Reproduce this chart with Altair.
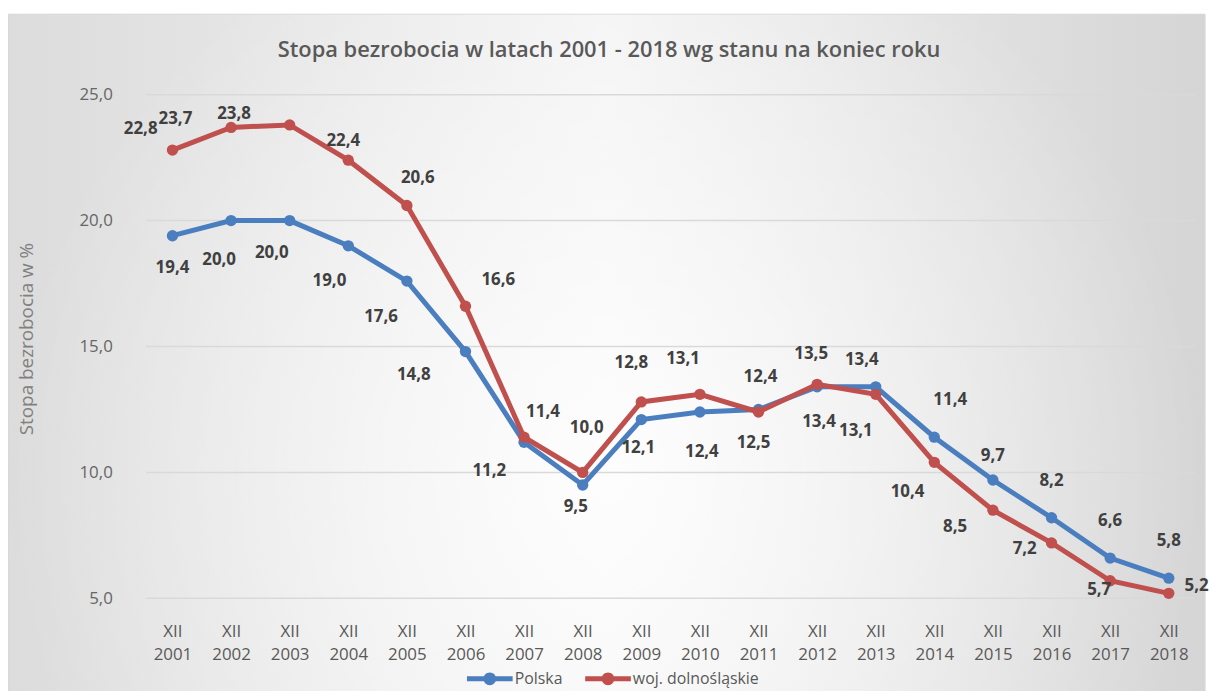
import altair as alt
import pandas as pd

# ---- data ----
years = ["2001", "2002", "2003", "2004", "2005", "2006", "2007", "2008", "2009",
         "2010", "2011", "2012", "2013", "2014", "2015", "2016", "2017", "2018"]
polska = [19.4, 20.0, 20.0, 19.0, 17.6, 14.8, 11.2, 9.5, 12.1,
          12.4, 12.5, 13.4, 13.4, 11.4, 9.7, 8.2, 6.6, 5.8]
dolnoslaskie = [22.8, 23.7, 23.8, 22.4, 20.6, 16.6, 11.4, 10.0, 12.8,
                13.1, 12.4, 13.5, 13.1, 10.4, 8.5, 7.2, 5.7, 5.2]
series_names = ["Polska", "woj. dolnośląskie"]
y_ticks = [5, 10, 15, 20, 25]

# ---- label nudges in pixels (placement of the data labels, as in the reference) ----
polska_nudge = [(0, 33), (-12, 40), (-18, 33), (-19, 35), (-26, 36), (-52, 24),
                (-35, 29), (-7, 22), (-3, 29), (2, 40), (-5, 34), (2, 35),
                (-14, -27), (16, -37), (0, -24), (0, -37), (0, -37), (0, -37)]
dolno_nudge = [(-32, -21), (-56, -8), (-56, -11), (-5, -19), (11, -28), (33, -26),
               (19, -25), (4, -45), (-10, -39), (-17, -36), (2, -35), (-6, -30),
               (-20, 37), (-27, 30), (-38, 17), (-27, 6), (-11, 9), (28, -7)]

rows = []
for i, yr in enumerate(years):
    rows.append({"year": yr, "series": series_names[0], "value": polska[i]})
for i, yr in enumerate(years):
    rows.append({"year": yr, "series": series_names[1], "value": dolnoslaskie[i]})
df = pd.DataFrame(rows)
df["idx"] = range(len(df))
nudges = polska_nudge + dolno_nudge

W, H = 1056, 507
FONT = "Open Sans"
GRAY = "#595959"

color_scale = alt.Scale(domain=series_names, range=["#4A7EBF", "#C0504D"])
y_scale = alt.Scale(domain=[5, 25], nice=False, zero=False)

x_enc = alt.X(
    "year:O",
    sort=years,
    scale=alt.Scale(type="point", padding=0.45),
    axis=alt.Axis(
        title=None, domain=False, ticks=False, grid=False, zindex=2,
        labelExpr="['XII', datum.value]", labelFont=FONT, labelFontSize=17,
        labelColor=GRAY, labelLineHeight=24, labelPadding=25, labelAngle=0,
    ),
)
y_enc = alt.Y(
    "value:Q",
    scale=y_scale,
    axis=alt.Axis(
        values=y_ticks, domain=False, ticks=False, grid=False, zindex=2,
        labelExpr="replace(format(datum.value, '.1f'), '.', ',')",
        labelFont=FONT, labelFontSize=17, labelColor="#666666", labelPadding=34,
        title="Stopa bezrobocia w %", titleFont=FONT, titleFontSize=19,
        titleFontWeight="normal", titleColor="#808080",
        titleX=-120, titleY=H / 2 - 8, titleAngle=270, titleBaseline="middle",
    ),
)

legend_path = ("M-1,-0.11H1V0.11H-1Z "
               "M0.28,0A0.28,0.28 0 1 1 -0.28,0A0.28,0.28 0 1 1 0.28,0Z")
legend = alt.Legend(
    orient="none", legendX=323, legendY=565, direction="horizontal", title=None,
    symbolType=legend_path, symbolSize=2116, symbolStrokeWidth=0,
    labelFont=FONT, labelFontSize=16, labelColor=GRAY, labelOffset=2,
    columnPadding=22, padding=0, zindex=2,
)

one = pd.DataFrame({"k": [0]})
bg = alt.Chart(one).mark_rect(
    fill=alt.Gradient(
        gradient="linear", x1=0, y1=0, x2=1, y2=0,
        stops=[alt.GradientStop(offset=0, color="#dcdcdc"),
               alt.GradientStop(offset=0.5, color="#f3f3f3"),
               alt.GradientStop(offset=1, color="#d5d5d5")],
    ),
    stroke="#d6d6d6", strokeWidth=1,
).encode(x=alt.value(-139), x2=alt.value(1066), y=alt.value(-81), y2=alt.value(606))

glow = alt.Chart(one).mark_rect(
    fill=alt.Gradient(
        gradient="radial", x1=0.5, y1=0.6, r1=0, x2=0.5, y2=0.6, r2=0.5,
        stops=[alt.GradientStop(offset=0, color="rgba(255,255,255,0.85)"),
               alt.GradientStop(offset=1, color="rgba(255,255,255,0)")],
    ),
).encode(x=alt.value(-139), x2=alt.value(1066), y=alt.value(-81), y2=alt.value(606))

grid = alt.Chart(pd.DataFrame({"tick": y_ticks})).mark_rule(
    color="#d9d9d9", strokeWidth=1.5
).encode(y=alt.Y("tick:Q", scale=y_scale), x=alt.value(0), x2=alt.value(W))

title = alt.Chart(one).mark_text(
    text="Stopa bezrobocia w latach 2001 - 2018 wg stanu na koniec roku",
    font=FONT, fontSize=22, fontWeight=600, color=GRAY, align="center", baseline="middle",
).encode(x=alt.value(466), y=alt.value(-45))

layers = [bg, glow, grid, title]
for s in series_names:
    base = alt.Chart(df).transform_filter(alt.datum.series == s)
    layers.append(base.mark_line(strokeWidth=5).encode(
        x=x_enc, y=y_enc, color=alt.Color("series:N", scale=color_scale, legend=legend)))
    layers.append(base.mark_point(filled=True, size=130, opacity=1).encode(
        x=x_enc, y=y_enc, color=alt.Color("series:N", scale=color_scale, legend=legend)))

for i, (ddx, ddy) in enumerate(nudges):
    layers.append(
        alt.Chart(df).transform_filter(alt.datum.idx == i)
        .transform_calculate(lab="replace(format(datum.value, '.1f'), '.', ',')")
        .mark_text(dx=ddx, dy=ddy, font=FONT, fontSize=17, fontWeight="bold",
                   color="#404040", align="center", baseline="middle")
        .encode(x=x_enc, y=y_enc, text="lab:N")
    )

chart = alt.layer(*layers).properties(
    width=W, height=H, autosize="none",
    padding={"left": 139, "top": 85, "right": 18, "bottom": 91},
).configure_view(stroke=None).configure(background="white").configure_legend(
    symbolFillColor="#000000"
)

chart.save("out.html", embed_options={"renderer": "svg", "actions": False})
